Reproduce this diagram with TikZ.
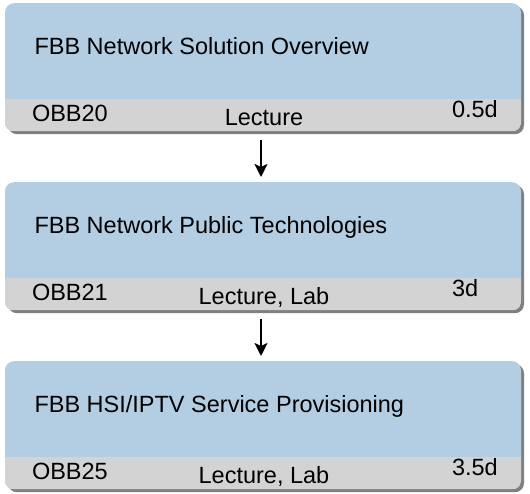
\documentclass[tikz,border=0pt]{standalone}
\usepackage{fontspec}
\setmainfont{Liberation Sans}
\usetikzlibrary{arrows.meta,shadows}
\definecolor{boxblue}{RGB}{179,206,227}
\definecolor{bandgray}{RGB}{211,211,211}
\definecolor{shadowgray}{RGB}{128,128,128}
\begin{document}
\begin{tikzpicture}[x=1pt, y=-1pt]

        % Styles
        \tikzstyle{course box}=[rounded corners=9pt, fill=boxblue, inner sep=0pt,
            minimum width=516pt, minimum height=128pt,
            drop shadow={shadow xshift=3pt, shadow yshift=-3pt, fill=shadowgray, opacity=1}]
        \tikzstyle{course band}=[fill=bandgray]
        \tikzstyle{course text}=[inner sep=0pt, font=\fontsize{23.5}{28}\selectfont]
        \tikzstyle{flow arrow}=[line width=2.2pt, -{Stealth[length=13pt, width=13pt, inset=3pt]}]
        \useasboundingbox (0,0) rectangle (530,493);
        %The graphic
        %courses
        \foreach \i/\top/\code/\kind/\dur/\title in {
            1/3/OBB20/Lecture/0.5d/{FBB Network Solution Overview},
            2/182/OBB21/{Lecture, Lab}/3d/{FBB Network Public Technologies},
            3/361/OBB25/{Lecture, Lab}/3.5d/{FBB HSI/IPTV Service Provisioning}}
        {
            \node[course box, anchor=north] (c\i) at (263,\top) {};
            \begin{scope}
                \clip[rounded corners=9pt] (c\i.south west) rectangle (c\i.north east);
                \fill[course band] (c\i.south west) rectangle ([yshift=32pt]c\i.south east);
            \end{scope}
            \node[course text, anchor=base west] (t\i) at ([xshift=29.5pt, yshift=-51pt]c\i.north west) {\title};
            \node[course text, anchor=base west] (k\i) at ([xshift=27pt, yshift=10pt]c\i.south west) {\code};
            \node[course text, anchor=base] (f\i) at ([xshift=1pt, yshift=6pt]c\i.south) {\kind};
            \node[course text, anchor=base west] (d\i) at ([xshift=447pt, yshift=14pt]c\i.south west) {\dur};
        }
        %arrows
        \foreach \a/\b in {1/2, 2/3}
            \draw[flow arrow, shorten <=9pt, shorten >=5pt] ([xshift=-2pt]c\a.south) -- ([xshift=-2pt]c\b.north);
\end{tikzpicture}
\end{document}
